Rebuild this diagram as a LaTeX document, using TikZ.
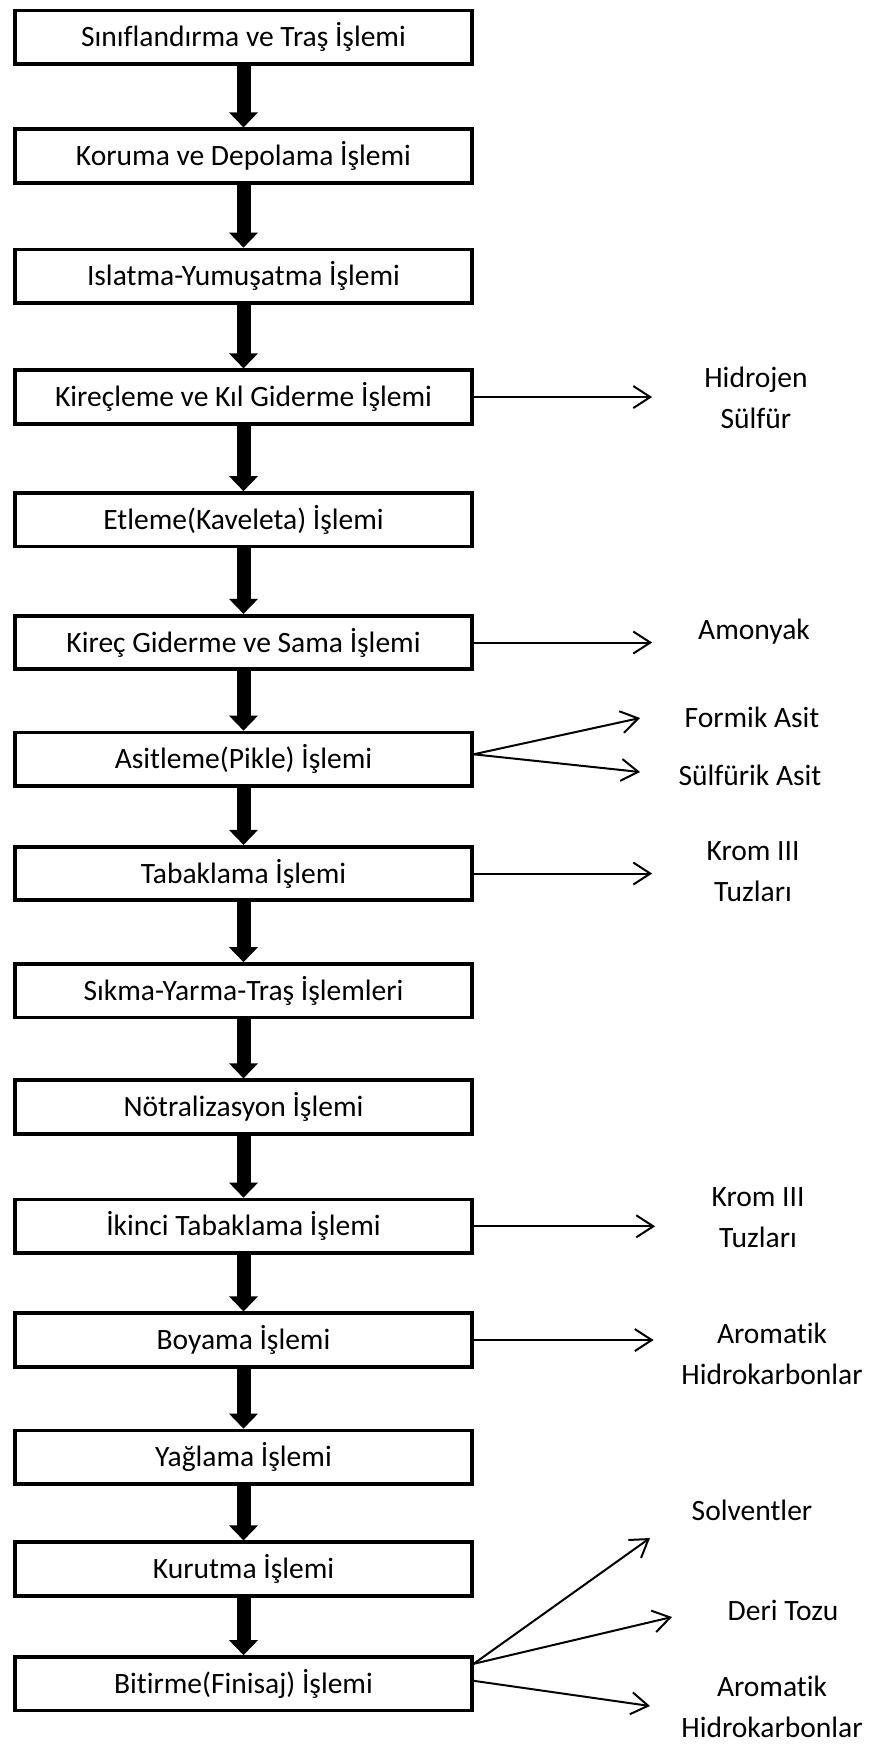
\documentclass[tikz,border=0pt]{standalone}
\usepackage{fontspec}
\setmainfont{Carlito}[Ligatures=NoCommon]
\usetikzlibrary{positioning,arrows.meta}

\tikzset{
  procbox/.style={draw=black,line width=0.075cm,minimum width=9.13cm,
                  minimum height=1.07cm,align=center,
                  font=\fontsize{16.8}{24}\selectfont},
  flowarr/.style={-{Triangle[width=0.56cm,length=0.3cm]},line width=0.28cm},
  outarr/.style={-{Straight Barb[length=0.34cm,width=0.44cm]},line width=0.04cm},
  outlbl/.style={align=center,font=\fontsize{16.8}{23.4}\selectfont},
}

\begin{document}
\begin{tikzpicture}
  \useasboundingbox (0,0) rectangle (17.54,-34.94);

  % process chain
  \node[procbox] (sinif) at (4.87,-0.746) {Sınıflandırma ve Traş İşlemi};
  \node[procbox, below=1.23cm of sinif] (koruma) {Koruma ve Depolama İşlemi};
  \node[procbox, below=1.26cm of koruma] (islatma) {Islatma-Yumuşatma İşlemi};
  \node[procbox, below=1.27cm of islatma] (kirecleme) {Kireçleme ve Kıl Giderme İşlemi};
  \node[procbox, below=1.31cm of kirecleme] (etleme) {Etleme(Kaveleta) İşlemi};
  \node[procbox, below=1.31cm of etleme] (kirecgid) {Kireç Giderme ve Sama İşlemi};
  \node[procbox, below=1.19cm of kirecgid] (asitleme) {Asitleme(Pikle) İşlemi};
  \node[procbox, below=1.14cm of asitleme] (tabak) {Tabaklama İşlemi};
  \node[procbox, below=1.20cm of tabak] (sikma) {Sıkma-Yarma-Traş İşlemleri};
  \node[procbox, below=1.18cm of sikma] (notral) {Nötralizasyon İşlemi};
  \node[procbox, below=1.24cm of notral] (tabakiki) {İkinci Tabaklama İşlemi};
  \node[procbox, below=1.13cm of tabakiki] (boyama) {Boyama İşlemi};
  \node[procbox, below=1.20cm of boyama] (yaglama) {Yağlama İşlemi};
  \node[procbox, below=1.09cm of yaglama] (kurutma) {Kurutma İşlemi};
  \node[procbox, below=1.15cm of kurutma] (bitirme) {Bitirme(Finisaj) İşlemi};

  \draw[flowarr] (sinif) -- (koruma);
  \draw[flowarr] (koruma) -- (islatma);
  \draw[flowarr] (islatma) -- (kirecleme);
  \draw[flowarr] (kirecleme) -- (etleme);
  \draw[flowarr] (etleme) -- (kirecgid);
  \draw[flowarr] (kirecgid) -- (asitleme);
  \draw[flowarr] (asitleme) -- (tabak);
  \draw[flowarr] (tabak) -- (sikma);
  \draw[flowarr] (sikma) -- (notral);
  \draw[flowarr] (notral) -- (tabakiki);
  \draw[flowarr] (tabakiki) -- (boyama);
  \draw[flowarr] (boyama) -- (yaglama);
  \draw[flowarr] (yaglama) -- (kurutma);
  \draw[flowarr] (kurutma) -- (bitirme);

  % outputs
  \node[outlbl] (hsulfur) at (15.12,-7.96) {Hidrojen\\Sülfür};
  \node[outlbl] (amonyak) at (15.08,-12.64) {Amonyak};
  \node[outlbl] (formik) at (15.04,-14.34) {Formik Asit};
  \node[outlbl] (sulfurik) at (15.0,-15.5) {Sülfürik Asit};
  \node[outlbl] (kromA) at (15.06,-17.44) {Krom III\\Tuzları};
  \node[outlbl] (kromB) at (15.16,-24.36) {Krom III\\Tuzları};
  \node[outlbl] (aromA) at (15.44,-27.08) {Aromatik\\Hidrokarbonlar};
  \node[outlbl] (solvent) at (15.04,-30.2) {Solventler};
  \node[outlbl] (deritozu) at (15.66,-32.2) {Deri Tozu};
  \node[outlbl] (aromB) at (15.44,-34.14) {Aromatik\\Hidrokarbonlar};

  \coordinate (tFormik) at (12.8,-14.36);
  \coordinate (tSulfurik) at (12.8,-15.44);
  \coordinate (tSolvent) at (13.0,-30.76);
  \coordinate (tDeri) at (13.44,-32.34);
  \coordinate (tArom) at (13.0,-34.12);

  \draw[outarr] (kirecleme.east) -- ++(3.57,0) coordinate (tHsulfur);
  \draw[outarr] (kirecgid.east) -- ++(3.57,0) coordinate (tAmonyak);
  \draw[outarr] ([yshift=0.1cm]asitleme.east) -- (tFormik);
  \draw[outarr] ([yshift=0.1cm]asitleme.east) -- (tSulfurik);
  \draw[outarr] (tabak.east) -- ++(3.57,0) coordinate (tKromA);
  \draw[outarr] (tabakiki.east) -- ++(3.63,0) coordinate (tKromB);
  \draw[outarr] (boyama.east) -- ++(3.6,0) coordinate (tAromA);
  \draw[outarr] ([yshift=0.4cm]bitirme.east) -- (tSolvent);
  \draw[outarr] ([yshift=0.4cm]bitirme.east) -- (tDeri);
  \draw[outarr] ([yshift=0.06cm]bitirme.east) -- (tArom);
\end{tikzpicture}
\end{document}
